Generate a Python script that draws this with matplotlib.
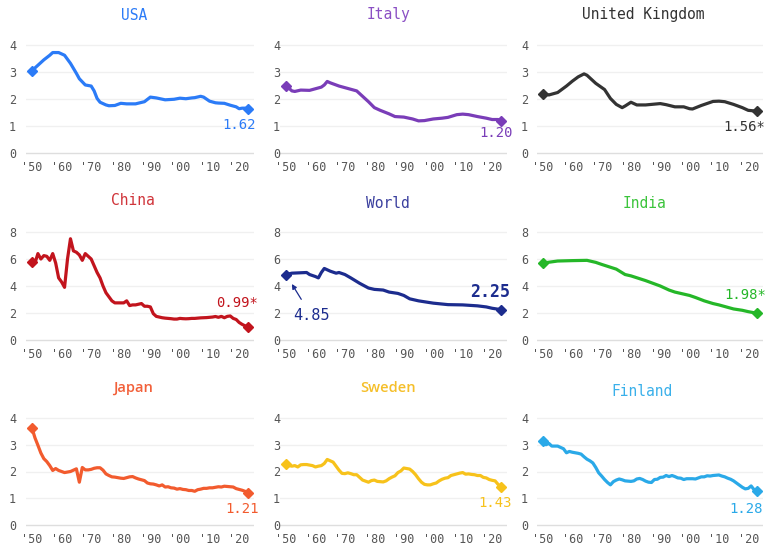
import matplotlib
matplotlib.use("Agg")
import matplotlib.pyplot as plt

W, H = 767, 552
DPI = 100

# ---------------- data ----------------
usa_years = [1950,1952,1954,1956,1957,1959,1961,1963,1965,1966,1968,1970,1971,1972,1973,1975,1976,1978,1980,1982,1985,1988,1990,1992,1995,1998,2000,2002,2004,2005,2007,2008,2010,2012,2013,2015,2017,2019,2020,2021,2022,2023]
usa_vals  = [3.05,3.25,3.45,3.62,3.72,3.72,3.62,3.32,2.95,2.75,2.52,2.48,2.30,2.02,1.88,1.78,1.75,1.76,1.84,1.82,1.82,1.90,2.07,2.04,1.97,1.99,2.03,2.01,2.04,2.05,2.10,2.07,1.92,1.86,1.85,1.84,1.77,1.71,1.64,1.66,1.66,1.62]

italy_years = [1950,1952,1953,1955,1958,1960,1962,1963,1964,1965,1966,1968,1970,1972,1974,1976,1978,1980,1982,1985,1987,1990,1993,1995,1997,2000,2003,2005,2008,2010,2012,2015,2018,2020,2022,2023]
italy_vals  = [2.50,2.30,2.28,2.33,2.32,2.38,2.44,2.52,2.65,2.60,2.56,2.48,2.42,2.36,2.30,2.10,1.90,1.68,1.58,1.45,1.35,1.33,1.26,1.19,1.20,1.26,1.29,1.32,1.42,1.44,1.42,1.35,1.29,1.24,1.24,1.20]

uk_years = [1950,1952,1955,1958,1960,1962,1964,1965,1966,1968,1971,1973,1975,1977,1978,1980,1982,1985,1988,1990,1992,1995,1998,2000,2001,2004,2008,2010,2012,2015,2018,2020,2022,2023]
uk_vals  = [2.20,2.15,2.24,2.48,2.66,2.82,2.93,2.88,2.78,2.58,2.35,2.02,1.80,1.68,1.74,1.88,1.78,1.78,1.81,1.83,1.79,1.71,1.71,1.64,1.63,1.76,1.91,1.92,1.90,1.80,1.68,1.58,1.56,1.56]

china_years = list(range(1950, 2024))
china_vals  = [5.80,5.70,6.40,6.00,6.25,6.20,5.90,6.40,5.70,4.60,4.30,3.90,6.00,7.50,6.60,6.50,6.30,5.90,6.40,6.20,6.00,5.50,5.00,4.60,4.00,3.50,3.20,2.90,2.75,2.75,
               2.75,2.75,2.90,2.55,2.60,2.60,2.65,2.70,2.50,2.50,2.45,1.95,1.75,1.70,1.65,1.62,1.60,1.58,1.55,1.55,
               1.60,1.58,1.57,1.58,1.60,1.60,1.62,1.64,1.65,1.66,1.68,1.70,1.74,1.68,1.75,1.65,1.75,1.78,1.60,1.52,
               1.30,1.16,1.05,0.99]

world_years = [1950,1952,1955,1957,1958,1960,1961,1962,1963,1965,1967,1968,1970,1972,1975,1978,1980,1983,1985,1988,1990,1992,1995,2000,2005,2010,2015,2018,2020,2023]
world_vals  = [4.85,4.95,4.98,5.00,4.85,4.70,4.60,5.00,5.30,5.10,4.95,5.00,4.85,4.60,4.20,3.85,3.75,3.70,3.55,3.45,3.30,3.05,2.90,2.73,2.62,2.60,2.53,2.45,2.35,2.25]

india_years = [1950,1955,1960,1965,1968,1970,1975,1978,1980,1985,1990,1993,1995,2000,2002,2005,2008,2010,2015,2018,2020,2023]
india_vals  = [5.70,5.85,5.88,5.90,5.75,5.60,5.25,4.85,4.75,4.40,4.00,3.70,3.55,3.30,3.15,2.90,2.70,2.60,2.30,2.20,2.10,1.98]

japan_years = list(range(1950, 2024))
japan_vals  = [3.62,3.26,2.98,2.69,2.48,2.37,2.22,2.04,2.11,2.04,2.00,1.96,1.98,2.00,2.05,2.10,1.60,2.15,2.06,2.06,2.08,2.12,2.14,2.14,2.05,1.91,1.85,1.80,1.79,1.77,
               1.75,1.74,1.77,1.80,1.81,1.76,1.72,1.69,1.66,1.57,1.54,1.53,1.50,1.46,1.50,1.42,1.43,1.39,1.38,1.34,
               1.36,1.33,1.32,1.29,1.29,1.26,1.32,1.34,1.37,1.37,1.39,1.39,1.41,1.43,1.42,1.45,1.44,1.43,1.42,1.36,
               1.33,1.30,1.26,1.21]

sweden_years = list(range(1950, 2024))
sweden_vals  = [2.28,2.22,2.20,2.22,2.17,2.25,2.26,2.26,2.24,2.22,2.17,2.20,2.22,2.30,2.45,2.40,2.35,2.20,2.05,1.93,
                1.92,1.95,1.92,1.88,1.88,1.78,1.68,1.64,1.60,1.66,1.68,1.63,1.62,1.61,1.65,1.73,1.79,1.84,1.96,2.02,
                2.13,2.11,2.09,2.00,1.88,1.73,1.60,1.52,1.50,1.50,1.54,1.57,1.65,1.71,1.75,1.77,1.85,1.88,1.91,1.94,
                1.96,1.90,1.91,1.89,1.88,1.85,1.85,1.78,1.76,1.70,1.67,1.65,1.52,1.43]

finland_years = list(range(1950, 2024))
finland_vals  = [3.15,3.00,3.05,2.95,2.95,2.95,2.90,2.85,2.70,2.75,2.72,2.70,2.68,2.65,2.55,2.46,2.40,2.32,2.15,1.95,
                 1.83,1.70,1.59,1.50,1.62,1.68,1.72,1.69,1.65,1.64,1.63,1.65,1.72,1.74,1.70,1.64,1.60,1.59,1.70,1.71,
                 1.78,1.79,1.85,1.81,1.85,1.81,1.76,1.75,1.70,1.73,1.73,1.73,1.72,1.76,1.80,1.80,1.84,1.83,1.85,1.86,
                 1.87,1.83,1.80,1.75,1.71,1.65,1.57,1.49,1.41,1.35,1.37,1.46,1.32,1.28]

names = ["USA", "Italy", "United Kingdom", "China", "World", "India", "Japan", "Sweden", "Finland"]
labels = ["1.62", "1.20", "1.56*", "0.99*", "2.25", "1.98*", "1.21", "1.43", "1.28"]
x_tick_years = [1950, 1960, 1970, 1980, 1990, 2000, 2010, 2020]
x_tick_labels = ["'50", "'60", "'70", "'80", "'90", "'00", "'10", "'20"]
ticks_small = [0, 1, 2, 3, 4]
ticks_big = [0, 2, 4, 6, 8]

series = [(usa_years, usa_vals), (italy_years, italy_vals), (uk_years, uk_vals),
          (china_years, china_vals), (world_years, world_vals), (india_years, india_vals),
          (japan_years, japan_vals), (sweden_years, sweden_vals), (finland_years, finland_vals)]

colors = ["#2b7bf7", "#7a3db8", "#333333", "#c2141d", "#1c2c8e", "#25b728", "#f25b2e", "#f7c21b", "#2aa9e8"]
title_colors = ["#2b7bf7", "#8a4fc4", "#333333", "#d0343a", "#3a3f9e", "#3cc43c", "#f2603a", "#f5bf2a", "#3ab0ea"]

# ---------------- layout (pixels) ----------------
col_x = [(32, 248), (286, 501), (543, 757)]        # px of 1950 / 2023
row_y = [(153, 45, 4), (340, 232, 8), (525, 418, 4)]  # px of 0, px of top, top value
ylabel_cx = [13, 278, 525]
title_pos = [(134, 15), (388, 15), (643, 15),
             (133, 200), (388, 204), (645, 204),
             (133, 388), (388, 388), (642, 391)]
# label offsets in px from the last marker: (dx right edge, dy center, +down)
label_off = [(8, 16), (12, 12), (8, 16), (10, -24), (9, -18), (9, -18), (11, 16), (11, 16), (6, 18)]

mono = "DejaVu Sans Mono"
fig = plt.figure(figsize=(W / DPI, H / DPI), dpi=DPI)
fig.patch.set_facecolor("white")

px2pt = 72.0 / DPI

for i, (name, (yrs, vals)) in enumerate(zip(names, series)):
    r, c = divmod(i, 3)
    x50, x23 = col_x[c]
    y0, ytop, topv = row_y[r]
    ppy = (x23 - x50) / 73.0
    ppu = (y0 - ytop) / topv
    xmin, xmax = 1948.0, 2025.0
    ymin, ymax = -0.22 * topv / 4, topv * 1.04
    left = x50 - (1950 - xmin) * ppy
    right = x23 + (xmax - 2023) * ppy
    bottom = y0 + (0 - ymin) * ppu
    top = y0 - ymax * ppu
    ax = fig.add_axes([left / W, 1 - bottom / H, (right - left) / W, (bottom - top) / H])
    ax.set_xlim(xmin, xmax)
    ax.set_ylim(ymin, ymax)
    for s in ax.spines.values():
        s.set_visible(False)
    yt = ticks_small if topv == 4 else ticks_big
    ax.set_yticks(yt)
    ax.set_yticklabels([str(t) for t in yt])
    for t in yt:
        ax.axhline(t, color="#dedede" if t == 0 else "#f0f0f0", lw=1.0, zorder=0)
    ax.set_xticks(x_tick_years)
    ax.set_xticklabels(x_tick_labels)
    pad_y = (left - (ylabel_cx[c] + 3)) * px2pt
    ax.tick_params(axis="y", length=0, pad=max(pad_y, 0), labelsize=8.5, labelcolor="#555555")
    ax.tick_params(axis="x", length=0, pad=1.5, labelsize=8.5, labelcolor="#555555")
    for lab in ax.get_xticklabels() + ax.get_yticklabels():
        lab.set_family(mono)

    col = colors[i]
    ax.plot(yrs, vals, color=col, lw=2.3, solid_joinstyle="round", solid_capstyle="round", zorder=3)
    ax.plot([yrs[0], yrs[-1]], [vals[0], vals[-1]], ls="none", marker="D", ms=5.5, color=col, zorder=4)

    dx, dy = label_off[i]
    bold = (name == "World")
    ax.annotate(labels[i], xy=(yrs[-1], vals[-1]), xytext=(dx * px2pt, -dy * px2pt),
                textcoords="offset points", ha="right", va="center", color=col,
                fontsize=12 if bold else 10, fontweight="bold" if bold else "normal",
                family=mono, annotation_clip=False)
    if name == "World":
        ax.annotate("4.85", xy=(yrs[0], vals[0]), xytext=(7 * px2pt, -41 * px2pt),
                    textcoords="offset points", ha="left", va="center", color=col,
                    fontsize=11, family=mono,
                    arrowprops=dict(arrowstyle="-|>", color=col, lw=0.9, mutation_scale=7,
                                    shrinkA=5, shrinkB=8))

    tx, ty = title_pos[i]
    tfam = "Open Sans" if name in ("Japan", "Sweden") else mono
    fig.text(tx / W, 1 - ty / H, name, ha="center", va="center", color=title_colors[i],
             fontsize=10.5, family=tfam, fontweight="semibold" if tfam != mono else "normal")

fig.savefig("out.png", dpi=DPI, facecolor="white")
